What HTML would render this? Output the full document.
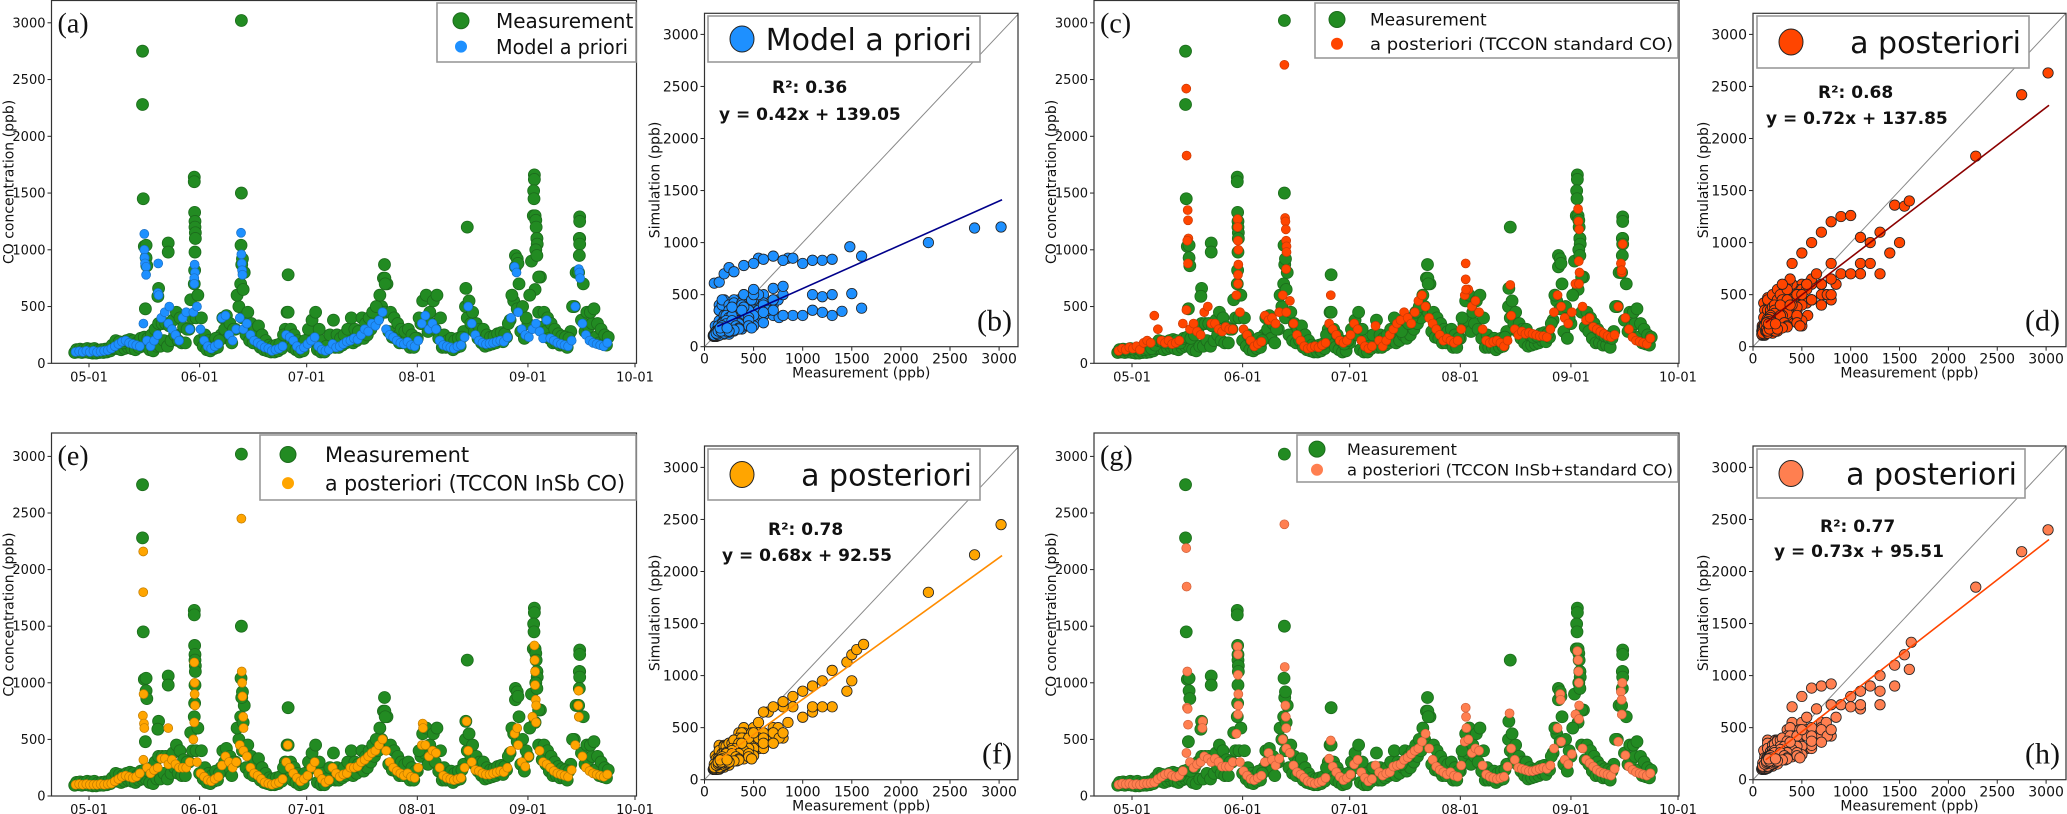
<!DOCTYPE html>
<html><head><meta charset="utf-8"><title>CO measurement vs simulation</title>
<style>
html,body{margin:0;padding:0;background:#fff;}
svg{display:block;font-family:"DejaVu Sans","Liberation Sans",sans-serif;}
</style></head>
<body>
<svg id="fig" width="2067" height="814" viewBox="0 0 2067 814" xmlns="http://www.w3.org/2000/svg"></svg>
<script>
// ---------------- DATA ----------------
const dayStart = -4;
const measLow = [95,100,95,100,95,90,90,95,95,100, 110,130,130,120,130,140,130,120,140,150, 150,120,110,150,150,200,150,200,250,200, 180,180,300,400,400,200,150,120,110,130, 140,250,300,220,180,300,500,400,250,200, 180,200,140,120,110,100,100,110,130,300, 180,140,120,100,110,180,250,250,120,100, 100,130,220,140,140,160,180,200,180,200, 250,220,250,300,350,400,500,450,280,230, 220,180,180,200,140,140,220,350,380,280, 350,300,220,140,140,140,120,140,150,280, 400,350,280,220,180,150,160,170,180,200, 190,230,380,550,480,280,220,350,900,650, 450,320,280,220,180,180,160,160,140,280, 500,800,380,280,320,350,230,180,170,160];
const measHigh = [120,125,120,130,125,130,115,120,125,130, 160,200,190,180,200,210,200,180,220,230, 220,250,300,350,350,350,330,380,450,400, 320,300,560,700,600,400,250,200,180,220, 200,400,420,350,300,600,700,800,450,350, 300,330,250,200,160,150,160,170,250,450, 300,250,200,170,200,300,380,450,300,200, 150,250,380,250,220,250,300,400,300,280, 400,350,400,450,500,600,750,700,450,400, 350,300,280,300,250,220,400,550,600,450, 550,600,400,250,200,220,200,220,230,500, 550,450,350,300,300,250,230,240,260,270, 260,350,600,850,700,500,400,600,1300,1100, 760,450,400,350,300,260,240,230,220,500, 800,1100,700,450,450,480,350,300,250,230];
const measPeaks = [[15,2750],[15,2280],[15.2,1450],[15.5,1030],[16,1040],[16,930],[16.2,860],[15.8,480],[19.5,660],[19.3,590],[22.2,1060],[22.2,980],[29.5,1640],[29.5,1600],[29.6,1330],[29.7,1250],[29.7,1200],[29.8,1150],[29.8,1100],[29.7,980],[29.6,820],[42.7,3020],[42.7,1500],[42.6,1040],[42.8,870],[43,920],[43.2,650],[55.8,780],[55.8,450],[82.8,870],[82.9,750],[83,700],[106,1200],[105.6,660],[119.5,950],[120,920],[120.2,880],[124.8,1660],[124.8,1620],[124.6,1520],[124.7,1450],[125,1300],[125.2,1260],[125.3,1200],[125.5,1100],[125.6,1050],[125.2,1000],[125.5,950],[126,760],[137.5,1290],[137.5,1250],[137.4,1100],[137.5,1050],[137.4,950],[137.2,800]];

const aprioriBase = [100,105,100,110,100,110,100,105,110,115, 130,150,170,190,200,180,170,160,150,350, 200,150,200,250,400,450,350,300,250,200, 400,450,300,450,500,300,200,150,130,150, 170,400,420,250,200,300,400,300,350,250, 200,180,160,140,130,110,120,130,150,250, 230,200,150,120,140,170,200,230,150,120, 110,120,170,140,150,170,190,200,220,210, 250,300,280,350,330,380,450,300,250,230, 200,180,170,190,160,150,200,350,420,300, 350,300,200,160,150,140,130,150,160,230, 500,350,250,200,180,170,175,180,190,200, 190,230,400,850,450,300,250,230,300,350, 280,220,380,220,200,180,170,160,150,200, 500,830,350,250,200,180,170,160,150,180];
const aprioriPeaks = [[15.5,1140],[15.5,1000],[15.6,930],[15.7,880],[16,850],[16,780],[19.4,880],[19.3,620],[19.5,600],[22.5,500],[29.6,870],[29.7,800],[29.5,750],[29.5,700],[42.6,1150],[42.7,960],[42.8,880],[42.9,820],[43,780],[119.8,800],[137.4,800],[137.6,750]];

const stdBase = [110,130,120,140,130,150,120,180,200,180, 420,300,200,180,200,170,180,200,350,470, 300,350,280,250,450,500,350,350,300,280, 320,300,300,600,450,300,250,200,150,170, 190,420,380,400,350,450,600,450,550,350, 250,200,150,130,140,150,140,160,180,350, 300,250,200,180,200,250,350,300,200,150, 130,150,330,200,150,200,250,300,350,380, 450,400,350,450,550,600,500,400,350,300, 250,200,220,200,180,200,300,600,650,500, 550,450,300,200,180,190,200,180,150,200, 420,300,250,280,260,270,260,250,240,240, 230,300,450,600,500,400,350,450,700,700, 500,380,400,320,300,280,260,240,230,250, 500,800,400,300,230,200,190,180,170,220];
const stdPeaks = [[15.2,2420],[15.3,1830],[15.6,1350],[15.7,1260],[15.8,1100],[15.5,1080],[15.7,880],[29.6,1270],[29.6,1200],[29.7,1080],[29.8,1000],[29.8,870],[29.7,780],[29.7,700],[42.7,2630],[42.9,1280],[43,1250],[43.1,1180],[43.2,1080],[43.3,1030],[43.3,980],[43.2,830],[55.7,600],[93.5,880],[93.5,740],[93.6,650],[106,690],[125,1360],[125.1,1250],[125.3,1180],[125.2,900],[125.4,800],[137,880],[137.2,820],[137.5,1050]];

const insbBase = [100,105,100,105,100,100,100,105,100,105, 110,130,150,170,180,170,160,170,200,320, 250,200,230,250,330,330,280,320,280,250, 250,250,300,500,300,200,170,140,130,150, 170,270,350,300,250,300,450,400,350,250, 200,180,150,120,110,100,110,120,150,300, 250,200,160,130,150,180,250,300,200,150, 120,140,250,200,170,190,200,250,250,260, 300,320,350,380,400,450,500,400,300,250, 220,200,180,200,170,160,250,450,450,350, 400,380,250,180,160,150,140,150,160,250, 400,300,230,220,200,190,190,200,210,220, 210,250,400,550,450,300,260,350,700,650, 400,300,280,250,220,200,190,180,170,230, 450,700,350,250,220,200,190,180,170,190];
const insbPeaks = [[15.2,2160],[15.2,1800],[15.3,900],[15.1,710],[15.4,640],[15.5,600],[22.2,600],[29.5,1180],[29.6,1000],[29.6,900],[29.7,800],[29.5,650],[42.7,2450],[42.8,1100],[42.9,1000],[43,880],[43.2,700],[43.3,600],[55.7,450],[93.5,640],[93.6,600],[105.8,660],[120,600],[124.8,1330],[124.9,1200],[125,1100],[125,980],[125.2,850],[125.3,800],[137.2,930],[137.1,800],[137.3,700]];

const combBase = [100,110,105,110,100,105,100,110,110,115, 120,150,170,190,200,180,170,180,220,380, 300,250,280,300,350,330,300,330,300,260, 260,260,300,550,300,220,180,150,140,160, 180,300,380,320,270,330,500,420,380,270, 210,190,160,130,120,110,120,130,160,330, 260,210,170,140,160,190,280,320,210,160, 130,150,270,210,180,200,210,260,270,280, 320,340,370,400,420,480,550,420,320,260, 230,210,190,210,180,170,270,480,500,380, 420,400,270,190,170,160,150,160,170,260, 420,320,250,240,230,220,220,230,240,250, 240,270,420,600,480,320,280,370,720,680, 420,320,290,260,230,210,200,190,180,240, 480,720,360,260,230,210,200,190,180,200];
const combPeaks = [[15.2,2190],[15.3,1850],[15.5,1100],[15.4,780],[15.6,770],[15.7,630],[19.8,660],[19.7,600],[29.6,1320],[29.7,1250],[29.7,1070],[29.8,900],[29.8,800],[29.7,720],[42.7,2400],[42.8,1140],[43,800],[43.1,700],[43.2,600],[55.7,490],[93.5,780],[93.6,700],[93.7,600],[105.8,730],[120,900],[120.1,850],[124.8,1280],[125,1200],[125.1,1100],[125.2,1000],[125.3,800],[137,920],[137.2,850],[137.4,1000]];

const aprioriPairs = [[100,610],[150,620],[200,700],[250,760],[300,720],[400,780],[500,800],[600,840],[700,870],[800,830],[900,850],[1000,800],[1100,830],[1200,830],[1300,840],[1480,960],[1600,870],[500,550],[700,560],[800,580],[1100,500],[1200,480],[1300,500],[1500,510],[1000,300],[1200,330],[1400,340],[1600,370],[600,330],[800,300],[2280,1000],[2750,1140],[3020,1150]];
const stdPairs = [[800,1200],[900,1250],[1000,1260],[600,1000],[700,1100],[1100,1050],[1200,1000],[1300,1100],[1450,1360],[1550,1350],[1600,1400],[1500,1000],[1400,900],[1200,800],[1000,700],[800,650],[500,900],[400,800],[300,600],[2280,1830],[2750,2420],[3020,2630]];
const insbPairs = [[600,650],[700,700],[800,750],[900,800],[1000,850],[1100,900],[1200,950],[1300,1050],[1450,1130],[1500,1200],[1550,1250],[1620,1300],[1500,950],[1450,850],[1200,700],[1000,600],[2280,1800],[2750,2160],[3020,2450]];
const combPairs = [[600,880],[700,900],[800,920],[500,800],[400,700],[1000,800],[1100,850],[1200,900],[1300,1000],[1450,1100],[1550,1200],[1620,1320],[1600,1060],[1450,900],[1300,850],[1000,700],[2280,1850],[2750,2190],[3020,2400]];

const fitSlopes = [0.42, 0.72, 0.68, 0.73];
const fitIntercepts = [139.05, 137.85, 92.55, 95.51];
const r2Values = ["0.36", "0.68", "0.78", "0.77"];
const yTicks = [0, 500, 1000, 1500, 2000, 2500, 3000];
const xTicksScatter = [0, 500, 1000, 1500, 2000, 2500, 3000];
const monthLabels = ["05-01", "06-01", "07-01", "08-01", "09-01", "10-01"];
const monthDays = [0, 31, 61, 92, 123, 153];

// ---------------- DRAW ----------------
const NS = "http://www.w3.org/2000/svg";
const svg = document.getElementById("fig");
function mk(tag, attrs, parent) {
  const e = document.createElementNS(NS, tag);
  for (const k in attrs) e.setAttribute(k, attrs[k]);
  (parent || svg).appendChild(e);
  return e;
}
function txt(s, attrs, parent) { const t = mk("text", attrs, parent); t.textContent = s; return t; }

function timeSeries(p) {
  const g = mk("g", {});
  
  
  const xs = d => p.x0 + (d) * (p.x1 - p.x0) / 153;
  const ys = v => p.y0 - v * p.ky;
  yTicks.forEach(v => {
    const y = ys(v);
    mk("line", {x1: p.left - 4, x2: p.left, y1: y, y2: y, stroke: "#222", "stroke-width": 1}, g);
    const t = txt(String(v), {x: p.left - 6, y: y + 4.5, "text-anchor": "end", "font-size": 13, fill: "#111"}, g);
    
    
  });
  monthLabels.forEach((m, i) => {
    const x = xs(monthDays[i]);
    mk("line", {x1: x, x2: x, y1: p.bottom, y2: p.bottom + 4, stroke: "#222", "stroke-width": 1}, g);
    const t = txt(m, {x: x, y: p.bottom + 18, "text-anchor": "middle", "font-size": 13, fill: "#111"}, g);
    
    
  });
  const yl = txt("CO concentration (ppb)", {x: 0, y: 0, "text-anchor": "middle", "font-size": 14, fill: "#111", transform: `translate(${p.left - 38},${(p.top + p.bottom) / 2}) rotate(-90)`}, g);
  
  
  const mg = mk("g", {}, g);
  
  
  measLow.forEach((v, i) => {
    const c = mk("circle", {cx: xs(dayStart + i), cy: ys(v), r: 6, fill: "#228b22", stroke: "#1c6b1c", "stroke-width": 0.8}, mg);
    
    
  });
  measHigh.forEach((v, i) => {
    const c = mk("circle", {cx: xs(dayStart + i + 0.5), cy: ys(v), r: 6, fill: "#228b22", stroke: "#1c6b1c", "stroke-width": 0.8}, mg);
    
    
  });
  measPeaks.forEach(pk => {
    const c = mk("circle", {cx: xs(pk[0]), cy: ys(pk[1]), r: 6, fill: "#228b22", stroke: "#1c6b1c", "stroke-width": 0.8}, mg);
    
    
  });
  const sg = mk("g", {}, g);
  
  
  p.base.forEach((v, i) => {
    const c = mk("circle", {cx: xs(dayStart + i + 0.25), cy: ys(v), r: 4.5, fill: p.color, stroke: p.edge, "stroke-width": 0.7}, sg);
    
    
  });
  p.peaks.forEach(pk => {
    const c = mk("circle", {cx: xs(pk[0]), cy: ys(pk[1]), r: 4.5, fill: p.color, stroke: p.edge, "stroke-width": 0.7}, sg);
    
    
  });
  const fr = mk("rect", {x: p.left, y: p.top, width: p.right - p.left, height: p.bottom - p.top, fill: "none", stroke: "#333", "stroke-width": 1.2}, g);
  
  
  const pl = txt(p.label, {x: p.left + 6, y: p.top + p.labelDy, "font-family": "Liberation Serif, serif", "font-size": 28, fill: "#111"}, g);
  
  
  const L = p.legend;
  const lg = mk("g", {}, g);
  
  
  mk("rect", {x: L.x, y: L.y, width: L.w, height: L.h, fill: "#fff", stroke: "#999", "stroke-width": 1.6}, lg);
  const l1 = L.y + L.h * 0.3, l2 = L.y + L.h * 0.74;
  mk("circle", {cx: L.x + L.mx, cy: l1, r: 8, fill: "#228b22", stroke: "#1c6b1c"}, lg);
  mk("circle", {cx: L.x + L.mx, cy: l2, r: 5.5, fill: p.color, stroke: p.color}, lg);
  const t1 = txt("Measurement", {x: L.x + L.tx, y: l1 + L.fs * 0.36, "font-size": L.fs, fill: "#111"}, lg);
  
  
  const t2 = txt(p.modelLabel, {x: L.x + L.tx, y: l2 + L.fs * 0.36, "font-size": L.fs, fill: "#111", textLength: L.tl, lengthAdjust: "spacingAndGlyphs"}, lg);
  
  
}

function scatter(p) {
  const g = mk("g", {});
  
  
  const xs = v => p.x0 + v * p.kx;
  const ys = v => p.y0 - v * p.ky;
  yTicks.forEach(v => {
    const y = ys(v);
    mk("line", {x1: p.left - 4, x2: p.left, y1: y, y2: y, stroke: "#222"}, g);
    const t = txt(String(v), {x: p.left - 6, y: y + 5, "text-anchor": "end", "font-size": 14, fill: "#111"}, g);
    
    
  });
  xTicksScatter.forEach(v => {
    const x = xs(v);
    mk("line", {x1: x, x2: x, y1: p.bottom, y2: p.bottom + 4, stroke: "#222"}, g);
    const t = txt(String(v), {x: x, y: p.bottom + 17, "text-anchor": "middle", "font-size": 14, fill: "#111"}, g);
    
    
  });
  const xl = txt("Measurement (ppb)", {x: (p.left + p.right) / 2, y: p.bottom + 31, "text-anchor": "middle", "font-size": 14, fill: "#111"}, g);
  
  
  const yl = txt("Simulation (ppb)", {x: 0, y: 0, "text-anchor": "middle", "font-size": 14, fill: "#111", transform: `translate(${p.left - 45},${(p.top + p.bottom) / 2}) rotate(-90)`}, g);
  
  
  const cid = "clip-" + p.name;
  const cp = mk("clipPath", {id: cid}, g);
  mk("rect", {x: p.left, y: p.top, width: p.right - p.left, height: p.bottom - p.top}, cp);
  const inner = mk("g", {"clip-path": `url(#${cid})`}, g);
  const one = mk("line", {x1: xs(0), y1: ys(0), x2: xs(3300), y2: ys(3300), stroke: "#888", "stroke-width": 1}, inner);
  
  
  const pts = mk("g", {}, inner);
  
  
  function dot(mx, sy) {
    const c = mk("circle", {cx: xs(mx), cy: ys(sy), r: 5.2, fill: p.color, stroke: "#222", "stroke-width": 0.8}, pts);
    
    
  }
  p.base.forEach((v, i) => { dot(measLow[i], v); dot(measHigh[i], v); });
  p.pairs.forEach(pr => dot(pr[0], pr[1]));
  const fx0 = 130, fx1 = 3030;
  const fl = mk("line", {x1: xs(fx0), y1: ys(p.slope * fx0 + p.icpt), x2: xs(fx1), y2: ys(p.slope * fx1 + p.icpt), stroke: p.lineColor, "stroke-width": 1.6}, inner);
  
  
  const fr = mk("rect", {x: p.left, y: p.top, width: p.right - p.left, height: p.bottom - p.top, fill: "none", stroke: "#333", "stroke-width": 1.2}, g);
  
  
  const L = p.legend;
  const lg = mk("g", {}, g);
  
  
  mk("rect", {x: L.x, y: L.y, width: L.w, height: L.h, fill: "#fff", stroke: "#999", "stroke-width": 1.6}, lg);
  mk("ellipse", {cx: L.x + 34, cy: L.y + L.h / 2, rx: 12, ry: 13, fill: p.color, stroke: "#222", "stroke-width": 1}, lg);
  const lt = txt(p.legendText, {x: L.x + L.w - 8, y: L.y + L.h / 2 + 11, "text-anchor": "end", "font-size": 30, fill: "#111"}, lg);
  
  
  const r2 = txt("R²: " + p.r2, {x: p.r2x, y: p.r2y, "font-size": 17, "font-weight": "bold", fill: "#111"}, g);
  
  
  const eq = txt(`y = ${p.slope.toFixed(2)}x + ${p.icpt.toFixed(2)}`, {x: p.eqx, y: p.eqy, "font-size": 17, "font-weight": "bold", fill: "#111"}, g);
  
  
  const pl = txt(p.label, {x: p.right - 6, y: p.bottom - 16, "text-anchor": "end", "font-family": "Liberation Serif, serif", "font-size": 30, fill: "#111"}, g);
  
  
}

timeSeries({name: "panel-a-timeseries", left: 51.5, right: 636.5, top: 0.5, bottom: 363.3, x0: 89, x1: 635, y0: 363.3, ky: 0.1135,
  base: aprioriBase, peaks: aprioriPeaks, color: "#1e90ff", edge: "#1a6fc4", label: "(a)", labelDy: 32, modelLabel: "Model a priori",
  legend: {x: 437, y: 3, w: 199, h: 59, mx: 24, tx: 59, fs: 20, tl: 132}});
scatter({name: "panel-b-scatter", left: 704.5, right: 1018, top: 13.3, bottom: 346.7, x0: 704.5, kx: 0.0982, y0: 346.7, ky: 0.1041,
  base: aprioriBase, pairs: aprioriPairs, color: "#1e90ff", lineColor: "#00008b", slope: fitSlopes[0], icpt: fitIntercepts[0], r2: r2Values[0],
  legend: {x: 708, y: 16, w: 272, h: 46}, legendText: "Model a priori", label: "(b)", r2x: 772, r2y: 93, eqx: 719, eqy: 120});
timeSeries({name: "panel-c-timeseries", left: 1094, right: 1679, top: 0.5, bottom: 363.3, x0: 1132, x1: 1678, y0: 363.3, ky: 0.1135,
  base: stdBase, peaks: stdPeaks, color: "#ff4500", edge: "#c83a05", label: "(c)", labelDy: 32, modelLabel: "a posteriori (TCCON standard CO)",
  legend: {x: 1315, y: 3, w: 363, h: 55, mx: 22, tx: 55, fs: 17, tl: 303}});
scatter({name: "panel-d-scatter", left: 1753, right: 2066, top: 13.3, bottom: 346.7, x0: 1753, kx: 0.0977, y0: 346.7, ky: 0.1041,
  base: stdBase, pairs: stdPairs, color: "#ff4500", lineColor: "#8b0000", slope: fitSlopes[1], icpt: fitIntercepts[1], r2: r2Values[1],
  legend: {x: 1757, y: 16, w: 272, h: 52}, legendText: "a posteriori", label: "(d)", r2x: 1818, r2y: 98, eqx: 1766, eqy: 124});
timeSeries({name: "panel-e-timeseries", left: 51.5, right: 636.5, top: 433, bottom: 796, x0: 89, x1: 635, y0: 796, ky: 0.1132,
  base: insbBase, peaks: insbPeaks, color: "#ffa500", edge: "#c07c00", label: "(e)", labelDy: 32, modelLabel: "a posteriori (TCCON InSb CO)",
  legend: {x: 260, y: 435, w: 376, h: 65, mx: 28, tx: 65, fs: 21, tl: 300}});
scatter({name: "panel-f-scatter", left: 704.5, right: 1018, top: 446, bottom: 779.7, x0: 704.5, kx: 0.0982, y0: 779.7, ky: 0.1041,
  base: insbBase, pairs: insbPairs, color: "#ffa500", lineColor: "#ff8c00", slope: fitSlopes[2], icpt: fitIntercepts[2], r2: r2Values[2],
  legend: {x: 708, y: 449, w: 272, h: 51}, legendText: "a posteriori", label: "(f)", r2x: 768, r2y: 535, eqx: 722, eqy: 561});
timeSeries({name: "panel-g-timeseries", left: 1094, right: 1679, top: 433, bottom: 796, x0: 1132, x1: 1678, y0: 796, ky: 0.1132,
  base: combBase, peaks: combPeaks, color: "#ff7f50", edge: "#d0603a", label: "(g)", labelDy: 32, modelLabel: "a posteriori (TCCON InSb+standard CO)",
  legend: {x: 1297, y: 435, w: 381, h: 47, mx: 20, tx: 50, fs: 16, tl: 326}});
scatter({name: "panel-h-scatter", left: 1753, right: 2066, top: 446, bottom: 779.7, x0: 1753, kx: 0.0977, y0: 779.7, ky: 0.1041,
  base: combBase, pairs: combPairs, color: "#ff7f50", lineColor: "#ff4500", slope: fitSlopes[3], icpt: fitIntercepts[3], r2: r2Values[3],
  legend: {x: 1757, y: 449, w: 268, h: 49}, legendText: "a posteriori", label: "(h)", r2x: 1820, r2y: 532, eqx: 1774, eqy: 557});
</script>
</body></html>
